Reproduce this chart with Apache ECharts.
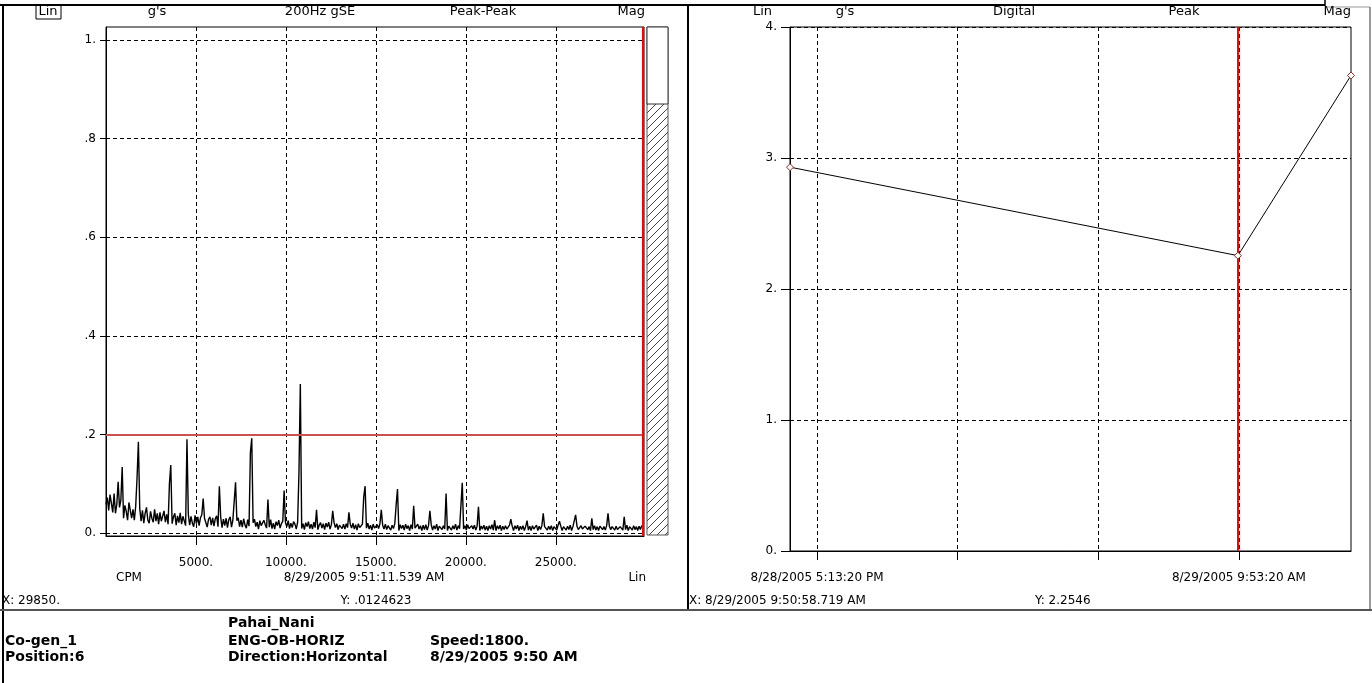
<!DOCTYPE html>
<html>
<head>
<meta charset="utf-8">
<script src="https://cdn.jsdelivr.net/npm/echarts@6/dist/echarts.min.js"></script>
<style>html,body{margin:0;padding:0;background:#fff;}#c{width:1372px;height:683px;}</style>
</head>
<body>
<div id="c"></div>
<script>
// ---------- DATA ----------
const spectrumStep = 75; // CPM between spectrum bins
const noiseFloor = [
0.058,0.072,0.046,0.078,0.060,0.042,0.068,0.040,0.058,0.032,0.052,0.066,0.036,0.030,0.056,0.044,0.026,0.062,0.038,0.030,
0.048,0.026,0.054,0.022,0.042,0.050,0.024,0.046,0.020,0.040,0.052,0.026,0.020,0.044,0.030,0.022,0.048,0.024,0.040,0.018,
0.042,0.024,0.020,0.045,0.022,0.038,0.018,0.036,0.043,0.019,0.033,0.040,0.016,0.035,0.021,0.041,0.018,0.034,0.038,0.015,
0.033,0.038,0.016,0.034,0.020,0.013,0.036,0.019,0.033,0.015,0.031,0.037,0.014,0.030,0.034,0.012,0.028,0.033,0.016,0.031,
0.014,0.029,0.035,0.013,0.027,0.032,0.011,0.028,0.015,0.030,0.011,0.027,0.033,0.012,0.026,0.029,0.010,0.025,0.031,0.013,
0.026,0.012,0.029,0.016,0.010,0.027,0.014,0.024,0.009,0.021,0.028,0.013,0.022,0.008,0.025,0.015,0.011,0.026,0.017,0.010,
0.024,0.012,0.027,0.009,0.020,0.008,0.023,0.015,0.026,0.010,0.019,0.024,0.008,0.021,0.013,0.025,0.009,0.020,0.011,0.023,
0.018,0.008,0.022,0.012,0.024,0.009,0.019,0.007,0.021,0.013,0.023,0.009,0.018,0.008,0.022,0.011,0.020,0.007,0.016,0.021,
0.010,0.019,0.007,0.020,0.012,0.022,0.008,0.017,0.009,0.021,0.011,0.019,0.007,0.016,0.020,0.009,0.018,0.008,0.019,0.011,
0.007,0.018,0.010,0.020,0.008,0.017,0.006,0.019,0.011,0.008,0.018,0.007,0.017,0.010,0.020,0.008,0.016,0.006,0.018,0.010,
0.007,0.017,0.009,0.019,0.006,0.016,0.008,0.018,0.007,0.015,0.017,0.006,0.016,0.009,0.019,0.007,0.015,0.005,0.017,0.009,
0.016,0.006,0.018,0.009,0.015,0.005,0.017,0.008,0.016,0.010,0.006,0.018,0.008,0.015,0.005,0.016,0.007,0.017,0.006,0.015,
0.009,0.017,0.006,0.015,0.008,0.018,0.005,0.014,0.016,0.007,0.015,0.008,0.017,0.005,0.014,0.016,0.006,0.015,0.008,0.018,
0.006,0.015,0.009,0.005,0.016,0.008,0.015,0.006,0.017,0.009,0.005,0.015,0.008,0.016,0.006,0.014,0.017,0.005,0.014,0.008,
0.016,0.006,0.014,0.005,0.015,0.008,0.017,0.006,0.014,0.005,0.015,0.008,0.016,0.005,0.014,0.007,0.015,0.008,0.005,0.016,
0.006,0.014,0.005,0.015,0.008,0.016,0.005,0.014,0.007,0.015,0.005,0.013,0.016,0.006,0.014,0.005,0.015,0.008,0.006,0.016,
0.005,0.014,0.007,0.015,0.005,0.013,0.016,0.006,0.014,0.007,0.015,0.005,0.013,0.014,0.006,0.016,0.007,0.014,0.005,0.013,
0.015,0.006,0.014,0.007,0.016,0.005,0.013,0.015,0.006,0.014,0.007,0.005,0.015,0.008,0.006,0.014,0.016,0.007,0.013,0.005,
0.014,0.007,0.015,0.006,0.013,0.005,0.014,0.016,0.007,0.013,0.006,0.015,0.005,0.014,0.007,0.013,0.015,0.006,0.014,0.007,
0.005,0.013,0.015,0.006,0.014,0.007,0.016,0.005,0.013,0.014,0.006,0.015,0.007,0.013,0.005,0.014,0.007,0.015,0.0125
];
const spectrumPeaks = [
[450,0.080],[675,0.104],[900,0.134],[1350,0.063],[1725,0.111],[1800,0.185],[2700,0.048],
[3525,0.100],[3600,0.138],[4500,0.190],[5400,0.070],[6300,0.095],[7200,0.103],[8025,0.163],
[8100,0.192],[9000,0.068],[9900,0.086],[10725,0.124],[10800,0.302],[11700,0.047],[12600,0.045],
[13500,0.042],[14325,0.074],[14400,0.095],[15300,0.047],[16125,0.057],[16200,0.089],[17100,0.055],
[18000,0.045],[18900,0.080],[19800,0.102],[20700,0.053],[21600,0.026],[22500,0.028],[23400,0.025],
[24300,0.040],[25200,0.024],[26100,0.037],[27000,0.030],[27900,0.040],[28800,0.033]
];
const spectrumXTicks = [5000, 10000, 15000, 20000, 25000];
const spectrumYTicks = [0, 0.2, 0.4, 0.6, 0.8, 1.0];
const spectrumYLabels = ['0.', '.2', '.4', '.6', '.8', '1.'];
const alarmLevel = 0.2;
const spectrumCursorCPM = 29850;

const trendTimes = ['2005-08-28T16:09:17', '2005-08-29T09:50:58.719', '2005-08-29T14:19:03'];
const trendValues = [2.93, 2.2546, 3.63];
const trendXTicks = ['2005-08-28T17:13:20', '2005-08-28T22:46:40', '2005-08-29T04:20:00', '2005-08-29T09:53:20'];
const trendXLabelTicks = ['2005-08-28T17:13:20', '2005-08-29T09:53:20'];
const trendYTicks = [0, 1, 2, 3, 4];
const trendYLabels = ['0.', '1.', '2.', '3.', '4.'];
const trendCursorTime = '2005-08-29T09:50:58.719';

// ---------- BUILD ----------
const ms = s => Date.parse(s + 'Z');
const spectrumData = noiseFloor.map((v, i) => [i * spectrumStep, v]);
spectrumPeaks.forEach(([f, a]) => {
  const i = Math.round(f / spectrumStep);
  if (spectrumData[i] && a > spectrumData[i][1]) spectrumData[i][1] = a;
});
const trendData = trendTimes.map((t, i) => [ms(t), trendValues[i]]);

function fmtTime(v) {
  const d = new Date(v);
  let h = d.getUTCHours();
  const ap = h >= 12 ? 'PM' : 'AM';
  h = h % 12; if (h === 0) h = 12;
  const p = n => String(n).padStart(2, '0');
  return (d.getUTCMonth() + 1) + '/' + d.getUTCDate() + '/' + d.getUTCFullYear() + ' ' + h + ':' + p(d.getUTCMinutes()) + ':' + p(d.getUTCSeconds()) + ' ' + ap;
}
function lookup(ticks, labels) {
  return v => {
    let best = 0;
    ticks.forEach((t, i) => { if (Math.abs(t - v) < Math.abs(ticks[best] - v)) best = i; });
    return labels[best];
  };
}

const FONT = 'DejaVu Sans';
const txt = (x, y, text, opts = {}) => ({
  type: 'text', x: x, y: y, silent: true,
  style: { text: text, fill: '#000', font: (opts.weight || 'normal') + ' ' + (opts.size || 12) + 'px "' + FONT + '"',
    align: opts.align || 'left', verticalAlign: 'middle' }
});
const ln = (x1, y1, x2, y2, stroke, w) => ({
  type: 'line', silent: true, shape: { x1: x1, y1: y1, x2: x2, y2: y2 }, style: { stroke: stroke, lineWidth: w }
});

// hatch pattern
const pc = document.createElement('canvas');
pc.width = 8; pc.height = 8;
const pctx = pc.getContext('2d');
pctx.fillStyle = '#fff'; pctx.fillRect(0, 0, 8, 8);
pctx.strokeStyle = '#444'; pctx.lineWidth = 1;
pctx.beginPath(); pctx.moveTo(0, 8); pctx.lineTo(8, 0); pctx.stroke();
pctx.beginPath(); pctx.moveTo(-1, 1); pctx.lineTo(1, -1); pctx.stroke();
pctx.beginPath(); pctx.moveTo(7, 9); pctx.lineTo(9, 7); pctx.stroke();

const axisFont = { color: '#000', fontFamily: FONT, fontSize: 12 };
const dash = { type: [4, 3], color: '#000', width: 1 };

const chart = echarts.init(document.getElementById('c'), null, { renderer: 'canvas' });
chart.setOption({
  animation: false,
  backgroundColor: '#fff',
  grid: [
    { left: 106, top: 27, width: 538, height: 509, show: true, borderColor: '#000', borderWidth: 1, backgroundColor: '#fff' },
    { left: 790, top: 27, width: 561, height: 524, show: true, borderColor: '#000', borderWidth: 1, backgroundColor: '#fff' }
  ],
  xAxis: [
    { type: 'value', gridIndex: 0, min: 0, max: 29900,
      axisLine: { show: true, onZero: false, lineStyle: { color: '#000' } },
      axisTick: { show: true, customValues: spectrumXTicks, length: 9, lineStyle: { color: '#000' } },
      axisLabel: Object.assign({ customValues: spectrumXTicks, margin: 21, formatter: v => v + '.' }, axisFont),
      splitLine: { show: true, lineStyle: dash } },
    { type: 'value', gridIndex: 1, min: trendData[0][0], max: trendData[trendData.length - 1][0],
      axisLine: { show: true, onZero: false, lineStyle: { color: '#000' } },
      axisTick: { show: true, customValues: trendXTicks.map(ms), length: 9, lineStyle: { color: '#000' } },
      axisLabel: Object.assign({ customValues: trendXLabelTicks.map(ms), margin: 21, formatter: fmtTime }, axisFont),
      splitLine: { show: true, lineStyle: dash } }
  ],
  yAxis: [
    { type: 'value', gridIndex: 0, min: -0.006, max: 1.026,
      axisLine: { show: true, onZero: false, lineStyle: { color: '#000' } },
      axisTick: { show: true, customValues: spectrumYTicks, length: 6, lineStyle: { color: '#000' } },
      axisLabel: Object.assign({ customValues: spectrumYTicks, margin: 10, formatter: lookup(spectrumYTicks, spectrumYLabels) }, axisFont),
      splitLine: { show: true, lineStyle: dash } },
    { type: 'value', gridIndex: 1, min: 0, max: 4,
      axisLine: { show: true, onZero: false, lineStyle: { color: '#000' } },
      axisTick: { show: true, customValues: trendYTicks, length: 9, lineStyle: { color: '#000' } },
      axisLabel: Object.assign({ customValues: trendYTicks, margin: 13, formatter: lookup(trendYTicks, trendYLabels) }, axisFont),
      splitLine: { show: true, lineStyle: dash } }
  ],
  series: [
    { type: 'line', xAxisIndex: 0, yAxisIndex: 0, data: spectrumData, showSymbol: false, symbol: 'none',
      lineStyle: { color: '#000', width: 1.4 }, silent: true,
      markLine: { silent: true, symbol: 'none', label: { show: false },
        data: [
          { yAxis: alarmLevel, lineStyle: { color: '#cc5252', width: 2, type: 'solid' } },
          { xAxis: spectrumCursorCPM, lineStyle: { color: '#ff0000', width: 2, type: 'solid' } }
        ] } },
    { type: 'line', xAxisIndex: 1, yAxisIndex: 1, data: trendData, symbol: 'diamond', symbolSize: 7, showSymbol: true,
      itemStyle: { color: '#fff', borderColor: '#8b2a2a', borderWidth: 1 },
      lineStyle: { color: '#000', width: 1 }, silent: true, z: 3,
      markLine: { silent: true, symbol: 'none', label: { show: false }, z: 1,
        data: [ { xAxis: ms(trendCursorTime), lineStyle: { color: '#ff0000', width: 2, type: 'solid' } } ] } }
  ],
  graphic: [
    // frame
    ln(0, 5, 1325, 5, '#000', 2),
    ln(1325, 0, 1325, 6, '#000', 1.5),
    ln(1325, 7, 1370, 7, '#999', 1),
    ln(1370, 7, 1370, 610, '#777', 1.5),
    ln(3, 5, 3, 683, '#000', 2),
    ln(688, 5, 688, 610, '#000', 2),
    ln(0, 610, 1372, 610, '#555', 2),
    // scroll / hatch
    { type: 'rect', silent: true, shape: { x: 647, y: 27, width: 21, height: 508 },
      style: { fill: { image: pc, repeat: 'repeat' }, stroke: '#555', lineWidth: 1 } },
    { type: 'rect', silent: true, shape: { x: 647, y: 27, width: 21, height: 77 },
      style: { fill: '#fff', stroke: '#333', lineWidth: 1 } },
    // left header
    { type: 'rect', silent: true, shape: { x: 36, y: 5, width: 25, height: 14 }, style: { fill: 'none', stroke: '#000', lineWidth: 1 } },
    txt(48, 12, 'Lin', { align: 'center', size: 13 }),
    txt(157, 12, "g's", { align: 'center', size: 13 }),
    txt(320, 12, '200Hz gSE', { align: 'center', size: 13 }),
    txt(483, 12, 'Peak-Peak', { align: 'center', size: 13 }),
    txt(645, 12, 'Mag', { align: 'right', size: 13 }),
    // right header
    txt(772, 12, 'Lin', { align: 'right', size: 13 }),
    txt(845, 12, "g's", { align: 'center', size: 13 }),
    txt(1014, 12, 'Digital', { align: 'center', size: 13 }),
    txt(1184, 12, 'Peak', { align: 'center', size: 13 }),
    txt(1351, 12, 'Mag', { align: 'right', size: 13 }),
    // left footer
    txt(116, 578, 'CPM'),
    txt(364, 578, '8/29/2005 9:51:11.539 AM', { align: 'center' }),
    txt(646, 578, 'Lin', { align: 'right' }),
    txt(2, 601, 'X: 29850.'),
    txt(376, 601, 'Y: .0124623', { align: 'center' }),
    // right footer
    txt(689, 601, 'X: 8/29/2005 9:50:58.719 AM'),
    txt(1035, 601, 'Y: 2.2546'),
    // info block
    txt(228, 623, 'Pahai_Nani', { weight: 'bold', size: 14 }),
    txt(5, 641, 'Co-gen_1', { weight: 'bold', size: 14 }),
    txt(228, 641, 'ENG-OB-HORIZ', { weight: 'bold', size: 14 }),
    txt(430, 641, 'Speed:1800.', { weight: 'bold', size: 14 }),
    txt(5, 657, 'Position:6', { weight: 'bold', size: 14 }),
    txt(228, 657, 'Direction:Horizontal', { weight: 'bold', size: 14 }),
    txt(430, 657, '8/29/2005 9:50 AM', { weight: 'bold', size: 14 })
  ]
});
</script>
</body>
</html>
